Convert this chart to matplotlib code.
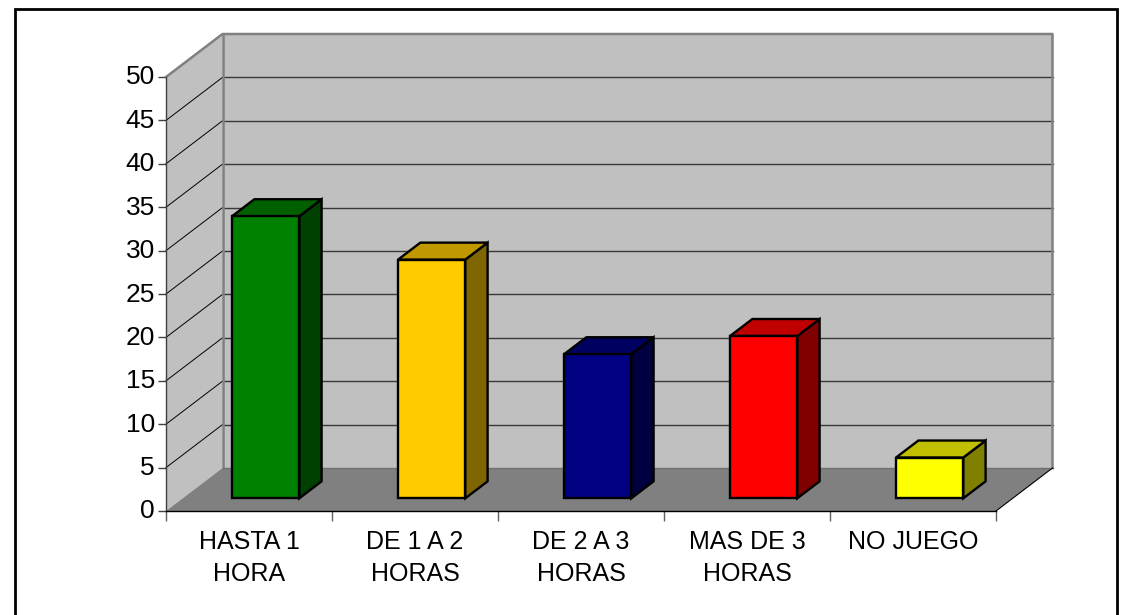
import matplotlib
matplotlib.use('Agg')
import matplotlib.pyplot as plt
from matplotlib.patches import Polygon, Rectangle
from matplotlib.transforms import ScaledTranslation
import numpy as np

plt.rcParams['font.family'] = ['Liberation Sans', 'DejaVu Sans']

categories = ['HASTA 1\nHORA', 'DE 1 A 2\nHORAS', 'DE 2 A 3\nHORAS', 'MAS DE 3\nHORAS', 'NO JUEGO']
values = [32.5, 27.5, 16.6, 18.7, 4.7]
y_ticks = [0, 5, 10, 15, 20, 25, 30, 35, 40, 45, 50]

front_colors = ['#008000', '#FFCC00', '#000080', '#FF0000', '#FFFF00']
top_colors = ['#006000', '#C09900', '#000060', '#C00000', '#C0C000']
side_colors = ['#004000', '#806600', '#000040', '#800000', '#808000']

W, H = 1131, 615
fig = plt.figure(figsize=(W / 100, H / 100), dpi=100)

# front plane of the box, pixels converted to figure fractions
left, right, bottom, top = 166, 996, 511, 77
ax = fig.add_axes([left / W, 1 - bottom / H, (right - left) / W, (bottom - top) / H])
ax.set_xlim(0, len(values))
ax.set_ylim(0, 50)
ax.patch.set_visible(False)

# outer frame
fig.add_artist(Rectangle((15 / W, 1 - 640 / H), 1102 / W, 631 / H, transform=fig.transFigure,
                         fill=False, ec='black', lw=2))

# oblique depth in data units
dx = 56.5 / ((right - left) / len(values))
dy = 43 / ((bottom - top) / 50)
n = len(values)

# walls and floor
ax.add_patch(Polygon([(dx, dy), (n + dx, dy), (n + dx, 50 + dy), (dx, 50 + dy)], fc='#C0C0C0', ec='none', clip_on=False, zorder=1))
ax.add_patch(Polygon([(0, 0), (dx, dy), (dx, 50 + dy), (0, 50)], fc='#C0C0C0', ec='none', clip_on=False, zorder=1))
ax.add_patch(Polygon([(0, 0), (n, 0), (n + dx, dy), (dx, dy)], fc='#808080', ec='none', clip_on=False, zorder=1))

# gridlines on back and side wall
for v in y_ticks[1:-1]:
    ax.plot([dx, n + dx], [v + dy, v + dy], color='#383838', lw=1.0, clip_on=False, zorder=2)
    ax.plot([0, dx], [v, v + dy], color='black', lw=0.7, clip_on=False, zorder=2)

# wall borders
ax.plot([0, dx, n + dx, n + dx], [50, 50 + dy, 50 + dy, dy], color='#808080', lw=1.8, clip_on=False, zorder=3)
ax.plot([dx, dx], [dy, 50 + dy], color='#808080', lw=1.8, clip_on=False, zorder=3)
ax.plot([dx, n + dx], [dy, dy], color='#707070', lw=1.0, clip_on=False, zorder=3)
ax.plot([n, n + dx], [0, dy], color='black', lw=0.8, clip_on=False, zorder=3)

# bars
bar_w = 0.405
d0 = 0.295
d1 = 0.69
for i, v in enumerate(values):
    x0 = i + 0.5 - bar_w / 2 + d0 * dx
    x1 = x0 + bar_w
    y0 = d0 * dy
    ox = (d1 - d0) * dx
    oy = (d1 - d0) * dy
    kw = dict(ec='black', lw=1.7, joinstyle='miter', clip_on=False, zorder=5)
    ax.add_patch(Polygon([(x1, y0), (x1 + ox, y0 + oy), (x1 + ox, y0 + v + oy), (x1, y0 + v)], fc=side_colors[i], **kw))
    ax.add_patch(Polygon([(x0, y0 + v), (x1, y0 + v), (x1 + ox, y0 + v + oy), (x0 + ox, y0 + v + oy)], fc=top_colors[i], **kw))
    ax.add_patch(Rectangle((x0, y0), bar_w, v, fc=front_colors[i], **kw))

# axes
for s in ['top', 'right']:
    ax.spines[s].set_visible(False)
ax.spines['left'].set_color('#404040')
ax.spines['left'].set_linewidth(1.0)
ax.spines['bottom'].set_color('black')
ax.spines['bottom'].set_linewidth(1.0)
ax.spines['left'].set_zorder(4)
ax.spines['bottom'].set_zorder(4)

ax.set_yticks(y_ticks)
ax.tick_params(axis='y', length=6, width=1.0, color='#404040', labelsize=19, pad=2)
shift = ScaledTranslation(0, 2 / 100, fig.dpi_scale_trans)
for lab in ax.get_yticklabels():
    lab.set_transform(lab.get_transform() + shift)
ax.set_xticks(np.arange(n + 1))
ax.set_xticklabels([])
ax.set_xticks(np.arange(n) + 0.5, minor=True)
ax.set_xticklabels(categories, minor=True, fontsize=18, linespacing=1.45)
ax.tick_params(axis='x', which='minor', length=0, pad=13.5)
ax.tick_params(axis='x', which='major', length=7, width=1.0, color='#606060')

fig.savefig('out.png', dpi=100)
